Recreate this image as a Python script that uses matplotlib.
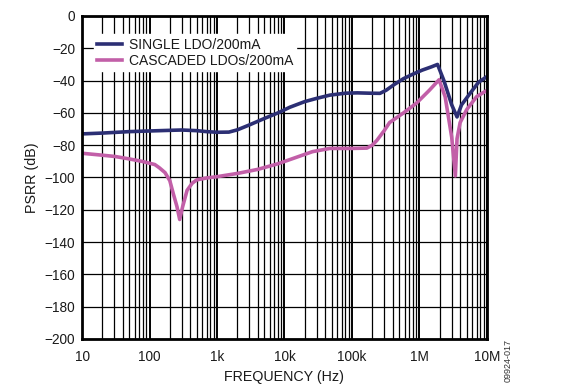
import matplotlib
matplotlib.use("Agg")
import matplotlib.pyplot as plt
from matplotlib.ticker import FixedLocator, LogLocator, NullFormatter

plt.rcParams['font.family'] = ['Liberation Sans', 'DejaVu Sans']

# Single LDO, 200mA load
single_f = [10, 20, 50, 100, 200, 300, 500, 700, 1000, 1500, 2000, 3000, 5000,
            8000, 12000, 20000, 30000, 47000, 80000, 120000, 180000, 260000,
            320000, 420000, 580000, 800000, 1100000, 1500000, 1850000, 2300000,
            3000000, 3600000, 4200000, 5600000, 7500000, 10000000]
single_db = [-73, -72.5, -71.6, -71.2, -70.8, -70.6, -71, -71.6, -72, -71.9,
             -70.5, -67.5, -63.5, -60, -56.5, -53, -51, -49, -47.8, -47.6,
             -47.8, -47.9, -46, -42.5, -38.8, -36, -33.5, -31.5, -30, -40, -55,
             -62.5, -55, -48, -41, -37.5]

# Cascaded LDOs, 200mA load
casc_f = [10, 15, 20, 31, 50, 77, 120, 140, 170, 200, 225, 255, 280, 310, 360,
          430, 500, 700, 1000, 2000, 4000, 8000, 15000, 26000, 47000, 100000,
          166000, 200000, 234000, 300000, 360000, 580000, 900000, 1400000,
          1950000, 2400000, 3000000, 3400000, 3600000, 4000000, 5000000,
          7000000, 10000000]
casc_db = [-85, -85.7, -86.2, -87, -88.5, -90, -92, -94, -97, -102, -110, -118,
           -126, -118, -108, -103.5, -101.5, -100.3, -99.5, -97.5, -95, -91.5,
           -87.5, -84, -82, -82, -81.8, -80, -77, -71, -66, -60, -54, -46,
           -39.5, -50, -75, -99, -76, -66, -58, -50, -46]

x_ticks = [10, 100, 1e3, 1e4, 1e5, 1e6, 1e7]
x_labels = ["10", "100", "1k", "10k", "100k", "1M", "10M"]
y_ticks = list(range(-200, 1, 20))

fig = plt.figure(figsize=(5.66, 3.90), dpi=100, facecolor="white")
ax = fig.add_axes([0.1449, 0.1308, 0.7155, 0.8282])

ax.plot(single_f, single_db, color="#2c2f74", linewidth=2.6,
        label="SINGLE LDO/200mA", zorder=3, solid_joinstyle="round")
ax.plot(casc_f, casc_db, color="#c25fa8", linewidth=2.6,
        label="CASCADED LDOs/200mA", zorder=3, solid_joinstyle="round")

ax.set_xscale("log")
ax.set_xlim(10, 1e7)
ax.set_ylim(-200, 0)
ax.xaxis.set_major_locator(FixedLocator(x_ticks))
ax.set_xticklabels(x_labels)
ax.xaxis.set_minor_locator(LogLocator(base=10, subs=range(2, 10), numticks=20))
ax.xaxis.set_minor_formatter(NullFormatter())
ax.set_yticks(y_ticks)
ax.set_yticklabels([str(v).replace("-", "\u2212") for v in y_ticks])

ax.tick_params(which="both", length=0, labelsize=9.8, colors="#1a1a1a")
ax.tick_params(axis="x", pad=8)
ax.tick_params(axis="y", pad=5)
ax.grid(which="major", axis="x", color="black", linewidth=1.4)
ax.grid(which="minor", axis="x", color="black", linewidth=0.9)
ax.grid(which="major", axis="y", color="black", linewidth=0.9)
for s in ax.spines.values():
    s.set_linewidth(2)
    s.set_zorder(4)

ax.set_xlabel("FREQUENCY (Hz)", fontsize=10.3, color="#1a1a1a", labelpad=4)
ax.set_ylabel("PSRR (dB)", fontsize=10.3, color="#1a1a1a", labelpad=4)

leg = ax.legend(loc="upper left", bbox_to_anchor=(0.012, 0.965), frameon=True,
                fontsize=10, handlelength=1.8, handletextpad=0.45,
                borderpad=0.25, labelspacing=0.15, fancybox=False)
leg.get_frame().set_facecolor("white")
leg.get_frame().set_edgecolor("white")
leg.get_frame().set_alpha(1)
for t in leg.get_texts():
    t.set_color("#1a1a1a")

fig.text(0.898, 0.02, "09924-017", rotation=90, fontsize=6.5, color="#333333",
         ha="center", va="bottom")

fig.savefig("out.png", dpi=100)
